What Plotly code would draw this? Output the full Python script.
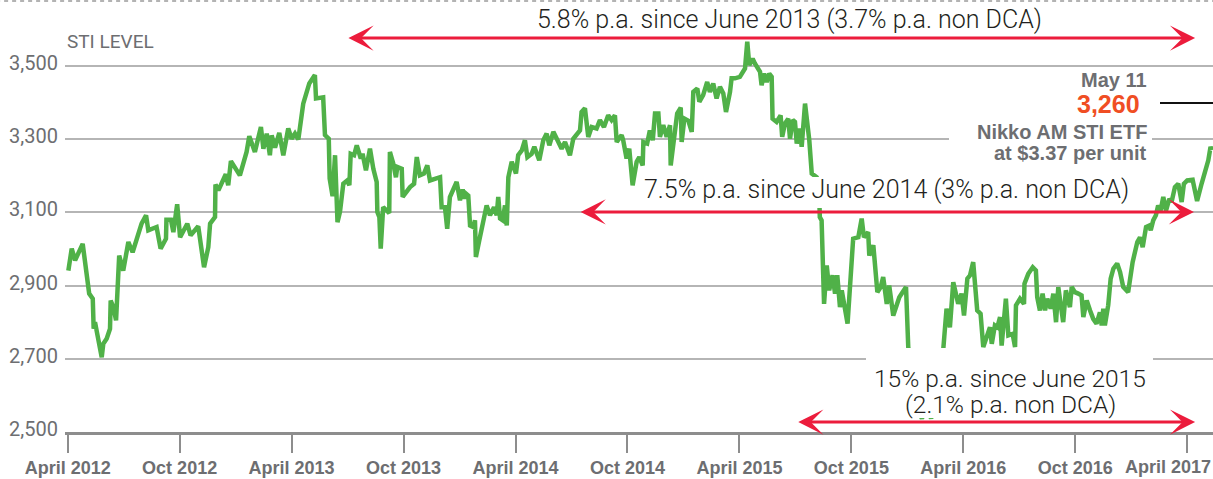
import plotly.graph_objects as go

# ---- data (decimal year, STI level) ----
dates = [2012.253, 2012.268, 2012.283, 2012.317, 2012.346, 2012.362, 2012.366, 2012.372, 2012.402, 2012.409,
         2012.424, 2012.439, 2012.442, 2012.454, 2012.466, 2012.480, 2012.498, 2012.521, 2012.540, 2012.580,
         2012.600, 2012.610, 2012.647, 2012.665, 2012.689, 2012.691, 2012.711, 2012.722, 2012.739, 2012.752,
         2012.784, 2012.799, 2012.833, 2012.859, 2012.878, 2012.886, 2012.908, 2012.910, 2012.923, 2012.956,
         2012.967, 2012.979, 2013.019, 2013.049, 2013.061, 2013.086, 2013.113, 2013.124, 2013.139, 2013.153,
         2013.161, 2013.176, 2013.195, 2013.213, 2013.235, 2013.250, 2013.265, 2013.280, 2013.302, 2013.329,
         2013.354, 2013.359, 2013.391, 2013.399, 2013.416, 2013.420, 2013.433, 2013.444, 2013.455, 2013.466,
         2013.481, 2013.499, 2013.508, 2013.514, 2013.529, 2013.541, 2013.559, 2013.567, 2013.582, 2013.600,
         2013.615, 2013.630, 2013.633, 2013.642, 2013.648, 2013.659, 2013.675, 2013.686, 2013.689, 2013.704,
         2013.716, 2013.722, 2013.742, 2013.746, 2013.779, 2013.797, 2013.809, 2013.823, 2013.841, 2013.856,
         2013.868, 2013.890, 2013.913, 2013.920, 2013.935, 2013.945, 2013.957, 2013.987, 2014.002, 2014.014,
         2014.024, 2014.029, 2014.039, 2014.047, 2014.061, 2014.069, 2014.073, 2014.088, 2014.106, 2014.121,
         2014.136, 2014.154, 2014.166, 2014.173, 2014.181, 2014.193, 2014.203, 2014.211, 2014.218, 2014.233,
         2014.252, 2014.262, 2014.278, 2014.292, 2014.303, 2014.322, 2014.334, 2014.356, 2014.374, 2014.389,
         2014.401, 2014.419, 2014.456, 2014.471, 2014.493, 2014.508, 2014.538, 2014.545, 2014.560, 2014.575,
         2014.590, 2014.612, 2014.627, 2014.645, 2014.664, 2014.679, 2014.694, 2014.702, 2014.724, 2014.731,
         2014.746, 2014.758, 2014.773, 2014.791, 2014.803, 2014.818, 2014.821, 2014.838, 2014.850, 2014.863,
         2014.873, 2014.888, 2014.895, 2014.910, 2014.925, 2014.940, 2014.943, 2014.958, 2014.972, 2014.988,
         2014.992, 2015.004, 2015.022, 2015.037, 2015.044, 2015.062, 2015.071, 2015.088, 2015.106, 2015.118,
         2015.133, 2015.148, 2015.163, 2015.178, 2015.190, 2015.208, 2015.215, 2015.230, 2015.252, 2015.275,
         2015.285, 2015.294, 2015.309, 2015.319, 2015.330, 2015.342, 2015.349, 2015.360, 2015.372, 2015.383,
         2015.394, 2015.398, 2015.416, 2015.434, 2015.441, 2015.453, 2015.468, 2015.476, 2015.488, 2015.498,
         2015.506, 2015.520, 2015.528, 2015.543, 2015.562, 2015.573, 2015.595, 2015.602, 2015.607, 2015.609,
         2015.617, 2015.628, 2015.640, 2015.651, 2015.666, 2015.677, 2015.687, 2015.699, 2015.707, 2015.733,
         2015.758, 2015.781, 2015.796, 2015.806, 2015.825, 2015.830, 2015.848, 2015.866, 2015.881, 2015.892,
         2015.908, 2015.919, 2015.937, 2015.964, 2015.994, 2016.004, 2016.025, 2016.047, 2016.065, 2016.087,
         2016.106, 2016.128, 2016.146, 2016.160, 2016.175, 2016.190, 2016.205, 2016.227, 2016.242, 2016.253,
         2016.268, 2016.280, 2016.294, 2016.312, 2016.327, 2016.339, 2016.357, 2016.369, 2016.377, 2016.391,
         2016.402, 2016.414, 2016.421, 2016.440, 2016.451, 2016.470, 2016.481, 2016.485, 2016.503, 2016.521,
         2016.523, 2016.540, 2016.560, 2016.574, 2016.580, 2016.592, 2016.604, 2016.615, 2016.625, 2016.640,
         2016.652, 2016.664, 2016.674, 2016.685, 2016.696, 2016.708, 2016.726, 2016.734, 2016.748, 2016.763,
         2016.778, 2016.786, 2016.801, 2016.816, 2016.830, 2016.845, 2016.860, 2016.868, 2016.875, 2016.882,
         2016.897, 2016.908, 2016.920, 2016.937, 2016.950, 2016.964, 2016.986, 2017.006, 2017.027, 2017.039,
         2017.051, 2017.066, 2017.080, 2017.087, 2017.098, 2017.110, 2017.120, 2017.131, 2017.143, 2017.155,
         2017.170, 2017.180, 2017.195, 2017.210, 2017.225, 2017.235, 2017.250, 2017.274, 2017.294, 2017.314,
         2017.329, 2017.344, 2017.354, 2017.360]

sti = [2941, 3001, 2969, 3014, 2878, 2864, 2782, 2800, 2704, 2741,
       2755, 2782, 2859, 2841, 2805, 2982, 2941, 3019, 2991, 3069,
       3092, 3051, 3060, 3001, 3028, 3080, 3080, 3046, 3122, 3032,
       3069, 3037, 3062, 2950, 3005, 3069, 3087, 3176, 3160, 3204,
       3174, 3240, 3201, 3265, 3308, 3265, 3333, 3274, 3315, 3256,
       3310, 3277, 3317, 3256, 3329, 3301, 3315, 3299, 3397, 3452,
       3475, 3411, 3414, 3311, 3301, 3192, 3144, 3256, 3073, 3101,
       3178, 3187, 3174, 3260, 3256, 3283, 3247, 3260, 3215, 3274,
       3219, 3183, 3101, 3087, 3001, 3114, 3105, 3098, 3265, 3233,
       3196, 3224, 3219, 3142, 3169, 3178, 3251, 3201, 3206, 3228,
       3187, 3192, 3196, 3114, 3114, 3055, 3142, 3183, 3133, 3162,
       3137, 3151, 3146, 3064, 3060, 3078, 2978, 3023, 3078, 3119,
       3092, 3114, 3092, 3142, 3083, 3078, 3119, 3064, 3196, 3238,
       3206, 3256, 3269, 3297, 3251, 3260, 3279, 3242, 3297, 3315,
       3283, 3320, 3274, 3292, 3256, 3301, 3324, 3374, 3384, 3306,
       3333, 3329, 3352, 3333, 3365, 3352, 3365, 3292, 3311, 3297,
       3247, 3274, 3174, 3238, 3251, 3228, 3292, 3288, 3324, 3297,
       3370, 3370, 3306, 3338, 3306, 3338, 3228, 3315, 3370, 3386,
       3292, 3356, 3350, 3320, 3429, 3438, 3402, 3420, 3456, 3429,
       3452, 3411, 3443, 3425, 3374, 3429, 3466, 3466, 3470, 3493,
       3566, 3502, 3520, 3507, 3493, 3484, 3447, 3479, 3456, 3479,
       3470, 3356, 3347, 3365, 3306, 3342, 3356, 3301, 3352, 3347,
       3288, 3329, 3279, 3397, 3297, 3206, 3196, 3187, 3133, 3087,
       3078, 2850, 2955, 2887, 2928, 2878, 2928, 2841, 2887, 2796,
       3028, 3032, 3083, 3032, 3046, 2982, 3010, 2882, 2896, 2923,
       2850, 2900, 2818, 2868, 2896, 2732, 2654, 2559, 2537, 2572,
       2537, 2600, 2654, 2723, 2837, 2786, 2909, 2850, 2878, 2818,
       2919, 2928, 2964, 2832, 2823, 2732, 2764, 2786, 2741, 2791,
       2786, 2814, 2736, 2864, 2764, 2768, 2732, 2846, 2864, 2850,
       2905, 2932, 2950, 2941, 2868, 2832, 2878, 2832, 2864, 2837,
       2878, 2800, 2896, 2850, 2800, 2887, 2841, 2896, 2882, 2878,
       2873, 2814, 2859, 2832, 2809, 2796, 2827, 2791, 2837, 2791,
       2846, 2919, 2946, 2960, 2937, 2896, 2882, 2964, 3019, 3032,
       3005, 3060, 3064, 3051, 3078, 3092, 3119, 3105, 3142, 3105,
       3137, 3128, 3169, 3178, 3128, 3178, 3187, 3189, 3131, 3178,
       3206, 3242, 3279, 3270]

x_tickvals = [2012.25, 2012.75, 2013.25, 2013.75, 2014.25, 2014.75, 2015.25, 2015.75, 2016.25, 2016.75, 2017.25]
x_ticktext = ["April 2012", "Oct 2012", "April 2013", "Oct 2013", "April 2014", "Oct 2014",
              "April 2015", "Oct 2015", "April 2016", "Oct 2016", "April 2017"]
y_tickvals = [2500, 2700, 2900, 3100, 3300, 3500]
y_ticktext = ["2,500", "2,700", "2,900", "3,100", "3,300", "3,500"]

GREEN = "#50b148"
RED = "#ec1c3c"
GREY = "#6d6e71"
DARK = "#231f20"
SANS = "Liberation Sans, Arial, sans-serif"
BODY = "Roboto, Lato, sans-serif"

# the last x label sits at the right edge; it is drawn as a shifted annotation instead
axis_labels = x_ticktext[:-1] + [""]

fig = go.Figure()
fig.add_trace(go.Scatter(x=dates, y=sti, mode="lines",
                         line=dict(color=GREEN, width=4.5), hoverinfo="skip"))

fig.update_layout(
    width=1213, height=479,
    margin=dict(l=65, r=0, t=0, b=47, autoexpand=False),
    plot_bgcolor="white", paper_bgcolor="white",
    showlegend=False,
    xaxis=dict(range=[2012.238, 2017.365], tickvals=x_tickvals, ticktext=axis_labels,
               ticks="outside", ticklen=18, tickwidth=1.5, tickcolor="#8d8d8d",
               showgrid=False, zeroline=False, showline=True, linecolor="#8d8d8d", linewidth=2.5,
               automargin=False, ticklabeloverflow="allow",
               tickfont=dict(family=SANS, size=18, color=GREY, weight="bold")),
    yaxis=dict(range=[2500, 3680], tickvals=y_tickvals, ticktext=y_ticktext,
               showgrid=True, gridcolor="#b5b5b5", gridwidth=1.5, zeroline=False, showline=False,
               ticks="", ticklabelstandoff=6, ticklabelshift=-3, automargin=False,
               tickfont=dict(family=BODY, size=20, color=GREY)),
)

def px_x(p):
    return (p - 65) / 1148.0

def px_y(p):
    return (432 - p) / 432.0

shapes = []
# top dashed rule
shapes.append(dict(type="line", xref="paper", yref="paper", x0=-0.06, x1=1.0, y0=px_y(1), y1=px_y(1),
                   line=dict(color="#9a9a9a", width=1.5, dash="4px,4px"), layer="above"))
# white masks behind annotation texts
for (a, b, c, d) in [(640, 1132, 177, 208), (866, 1153, 348, 418), (949, 1152, 121, 163)]:
    shapes.append(dict(type="rect", xref="paper", yref="paper", x0=px_x(a), x1=px_x(b),
                       y0=px_y(d), y1=px_y(c), fillcolor="white", line=dict(width=0), layer="above"))
# connector line for the latest value
shapes.append(dict(type="line", xref="paper", yref="paper", x0=px_x(1160), x1=1.0,
                   y0=px_y(103), y1=px_y(103), line=dict(color="#111111", width=2), layer="above"))
fig.update_layout(shapes=shapes)

ann = []
def txt(text, x, y, size, color, family, xanchor="center", weight="normal"):
    ann.append(dict(text=text, xref="paper", yref="paper", x=x, y=y, showarrow=False,
                    xanchor=xanchor, yanchor="middle",
                    font=dict(family=family, size=size, color=color, weight=weight)))

txt("STI LEVEL", 0, px_y(42), 19, GREY, BODY, xanchor="left")
txt("5.8% p.a. since June 2013 (3.7% p.a. non DCA)", px_x(789), px_y(19), 25, DARK, BODY, weight=300)
txt("7.5% p.a. since June 2014 (3% p.a. non DCA)", px_x(886), px_y(190), 25, DARK, BODY, weight=300)
txt("15% p.a. since June 2015", px_x(1010), px_y(378), 24.5, DARK, BODY, weight=300)
txt("(2.1% p.a. non DCA)", px_x(1010), px_y(404), 24.5, DARK, BODY, weight=300)
txt("May 11", px_x(1149), px_y(80), 20, GREY, SANS, xanchor="right", weight="bold")
txt("3,260", px_x(1142), px_y(104), 25, "#f04e23", SANS, xanchor="right", weight="bold")
txt("Nikko AM STI ETF", px_x(1149), px_y(132), 20, GREY, SANS, xanchor="right", weight="bold")
txt("at $3.37 per unit", px_x(1149), px_y(153), 20, GREY, SANS, xanchor="right", weight="bold")
txt(x_ticktext[-1], 1.0, px_y(467), 18, GREY, SANS, xanchor="right", weight="bold")

# double-headed return arrows (start, end, level)
arrows = [(2013.497, 2017.285, 3576), (2014.534, 2017.280, 3101), (2015.506, 2017.285, 2527)]
for (x0, x1, yv) in arrows:
    ann.append(dict(text="", x=x1, y=yv, ax=x0, ay=yv, xref="x", yref="y", axref="x", ayref="y",
                    showarrow=True, arrowcolor=RED, arrowwidth=3, arrowhead=3, arrowsize=1.4,
                    arrowside="end+start", startarrowhead=3, startarrowsize=1.4,
                    standoff=0, startstandoff=0))
fig.update_layout(annotations=ann)

fig.write_html("out.html", config={"displayModeBar": False},
               post_script="document.body.style.margin='0';document.body.style.overflow='hidden';")
